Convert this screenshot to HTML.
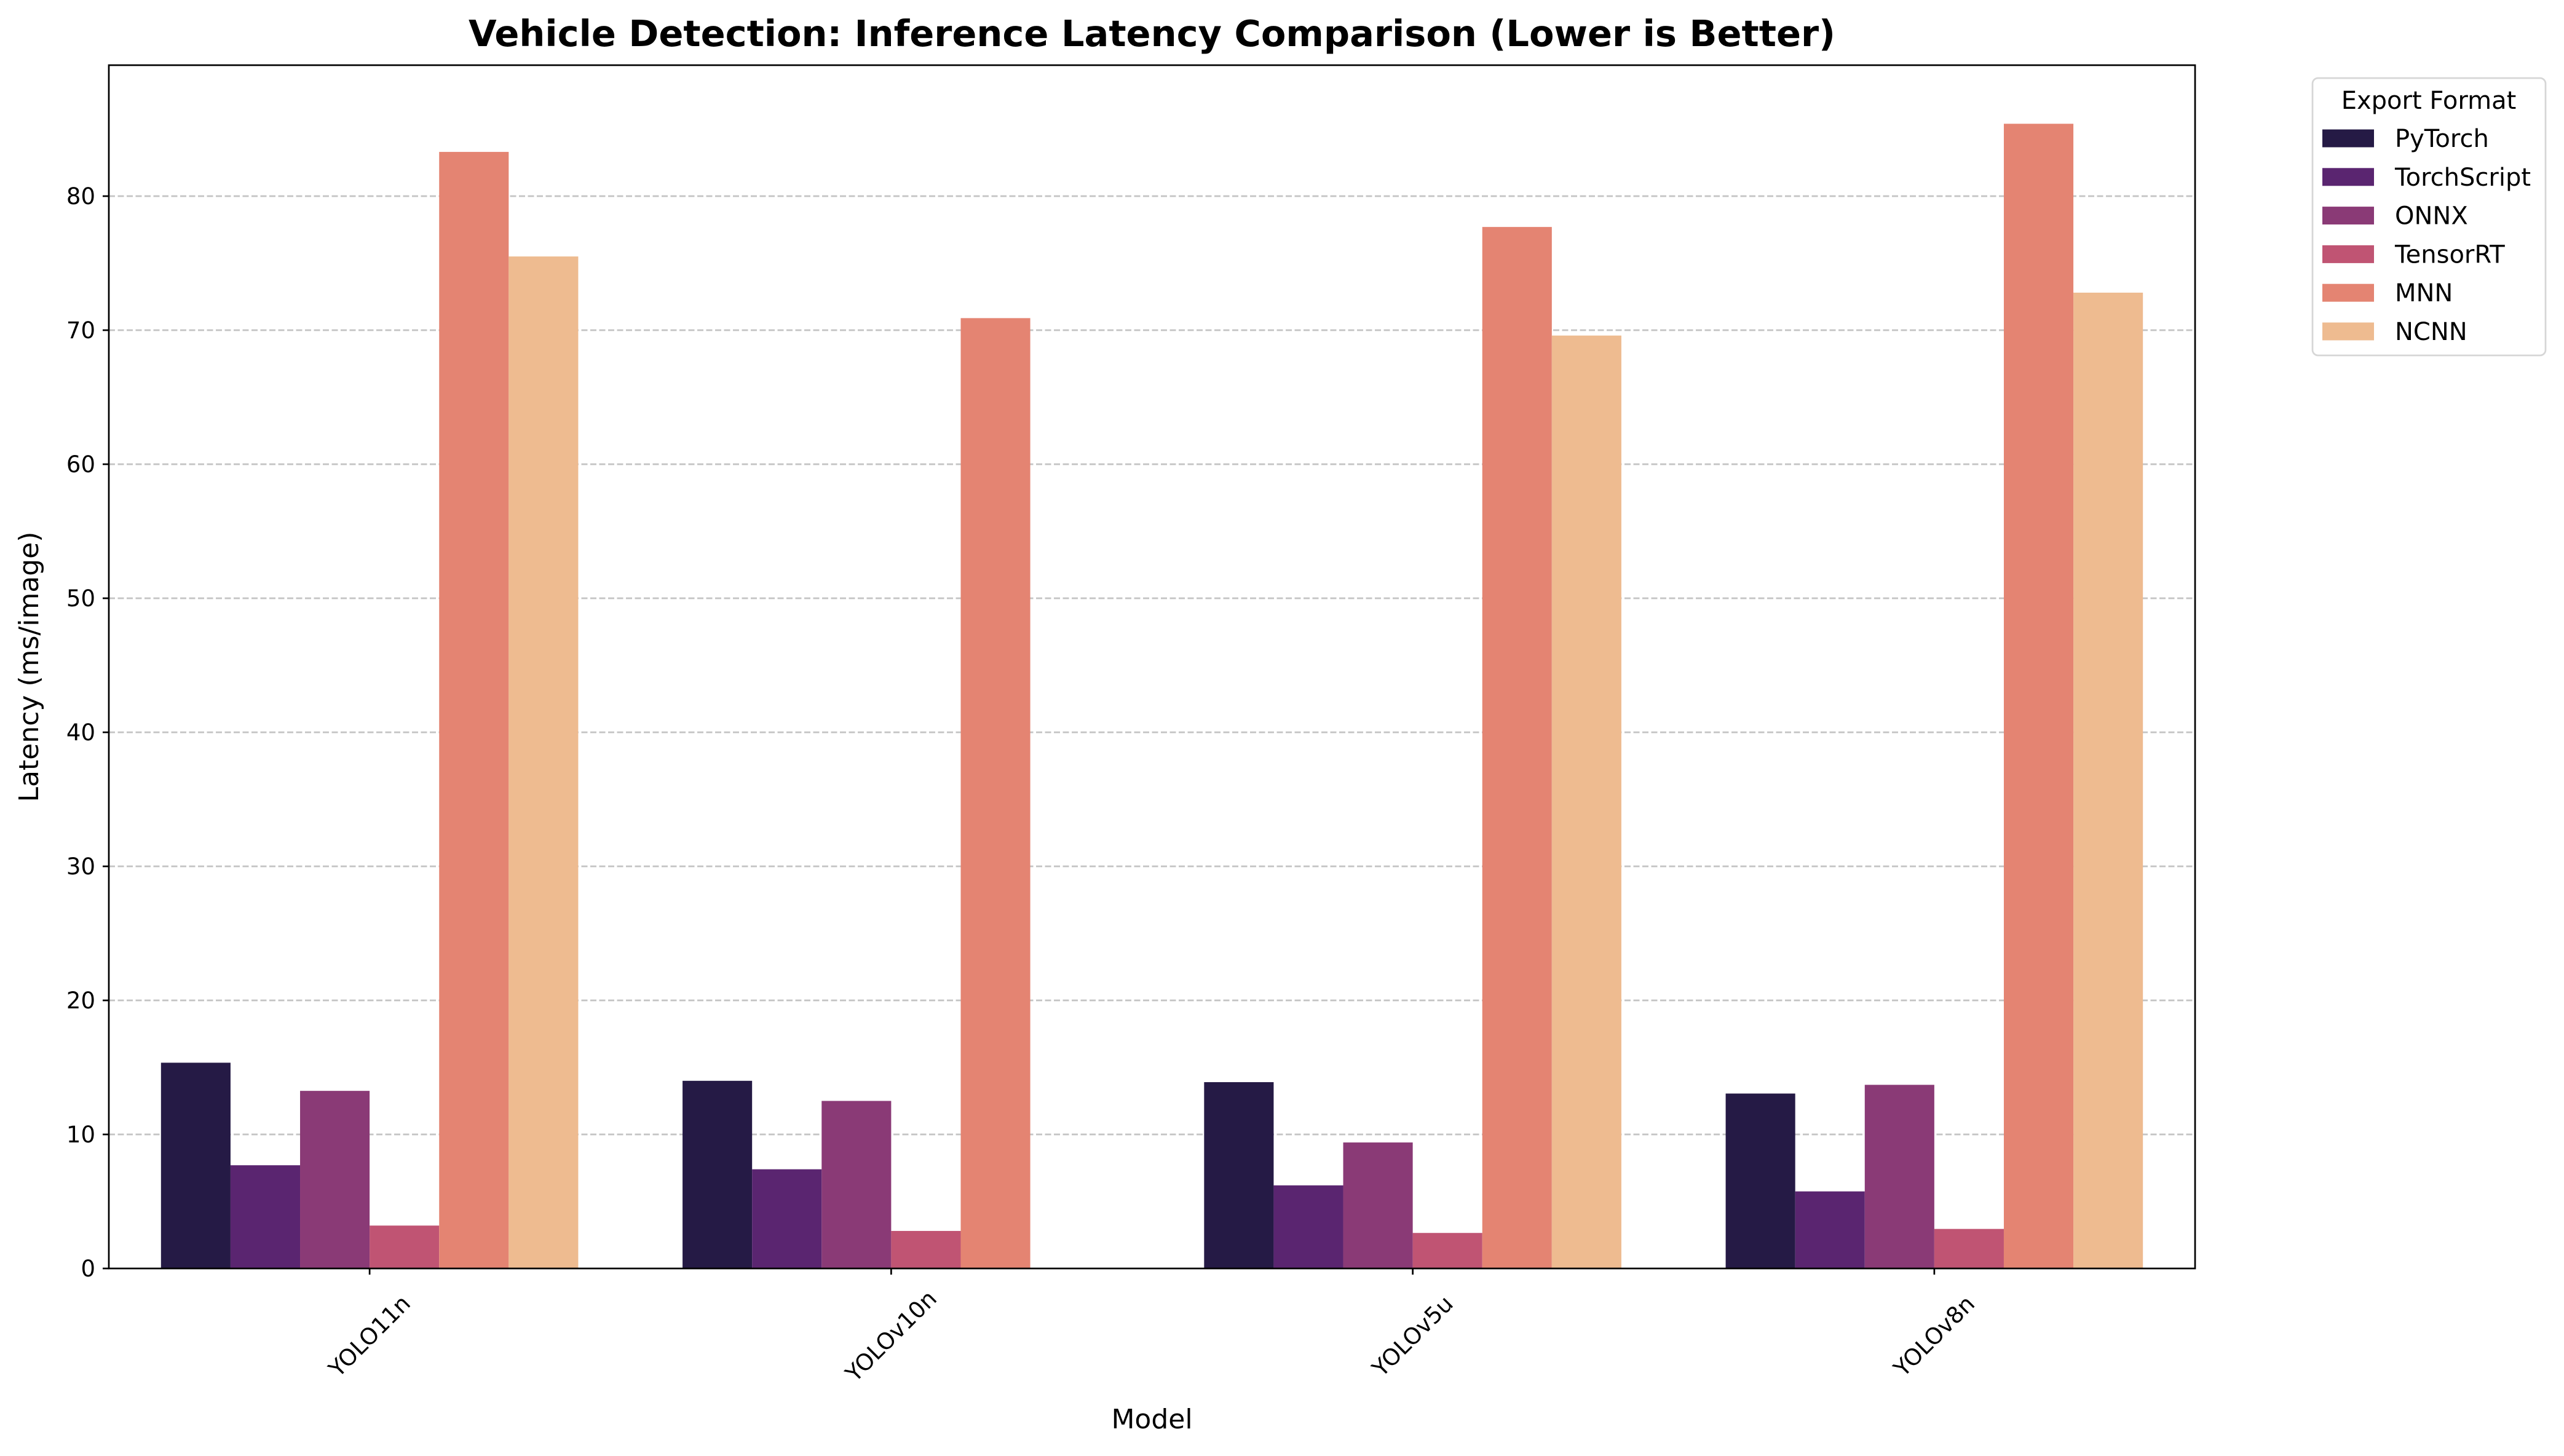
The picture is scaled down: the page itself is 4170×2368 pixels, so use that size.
<!DOCTYPE html>
<html><head><meta charset="utf-8"><style>
html,body{margin:0;padding:0;background:#fff;}
svg{display:block;font-family:"DejaVu Sans","Liberation Sans",sans-serif;}
</style></head><body>
<svg id="chart" width="4170" height="2368" viewBox="0 0 4170 2368" xmlns="http://www.w3.org/2000/svg">
<rect width="4170" height="2368" fill="#fff"/>
<g id="grid"></g>
<g id="bars"></g>
<g id="axes"></g>
<g id="legend"></g>
</svg>
<script>
const categories = ["YOLO11n","YOLOv10n","YOLOv5u","YOLOv8n"];
const seriesNames = ["PyTorch","TorchScript","ONNX","TensorRT","MNN","NCNN"];
const pytorch = [15.35, 14.0, 13.9, 13.05];
const torchscript = [7.7, 7.4, 6.2, 5.75];
const onnx = [13.25, 12.5, 9.4, 13.7];
const tensorrt = [3.2, 2.8, 2.65, 2.95];
const mnn = [83.3, 70.9, 77.7, 85.4];
const ncnn = [75.5, 0, 69.6, 72.8];
const yTicks = [0,10,20,30,40,50,60,70,80];
const colors = ["#251a45","#5a2570","#8a3a76","#c05473","#e48472","#eebb90"];
const values = [pytorch, torchscript, onnx, tensorrt, mnn, ncnn];

const NS="http://www.w3.org/2000/svg";
const L=177, R=3570, T=106, B=2063;
const perUnit=(B-L===0)?0:21.8;
function y(v){return B - v*perUnit;}
const catW=(R-L)/4;
function xc(i){return L + catW*(i+0.5);}
const barW=catW*0.8/6;
function mk(tag,attrs,parent){const e=document.createElementNS(NS,tag);for(const k in attrs)e.setAttribute(k,attrs[k]);parent.appendChild(e);return e;}

const grid=document.getElementById('grid');
yTicks.forEach(t=>{
  if(t===0) return;
  const l=mk('line',{x1:L,x2:R,y1:y(t),y2:y(t),stroke:'#c4c4c4','stroke-width':2.7,'stroke-dasharray':'10,4.5'},grid);
  
  
});

const bars=document.getElementById('bars');
values.forEach((arr,s)=>{
  arr.forEach((v,i)=>{
    const x0=xc(i)-catW*0.4+s*barW;
    const r=mk('rect',{x:x0,y:y(v),width:barW,height:B-y(v),fill:colors[s]},bars);
    
    
  });
});

const axes=document.getElementById('axes');
const frame=mk('rect',{x:L,y:T,width:R-L,height:B-T,fill:'none',stroke:'#000','stroke-width':2.7},axes);


yTicks.forEach(t=>{
  mk('line',{x1:L-10,x2:L,y1:y(t),y2:y(t),stroke:'#000','stroke-width':2.7},axes);
  const tx=mk('text',{x:L-22,y:y(t)+13,'text-anchor':'end','font-size':37,fill:'#000'},axes);
  tx.textContent=t;
  
  
});
categories.forEach((c,i)=>{
  mk('line',{x1:xc(i),x2:xc(i),y1:B,y2:B+10,stroke:'#000','stroke-width':2.7},axes);
  const tx=mk('text',{x:0,y:0,'text-anchor':'middle','dominant-baseline':'central','font-size':37,fill:'#000',transform:'translate('+xc(i)+',2173) rotate(-45)'},axes);
  tx.textContent=c;
  
  
});
const title=mk('text',{x:(L+R)/2,y:75,'text-anchor':'middle','font-size':59,'font-weight':'bold',fill:'#000'},axes);
title.textContent='Vehicle Detection: Inference Latency Comparison (Lower is Better)';


const xl=mk('text',{x:(L+R)/2,y:2323,'text-anchor':'middle','font-size':44,fill:'#000'},axes);
xl.textContent='Model';


const yl=mk('text',{x:0,y:0,'text-anchor':'middle','font-size':44,fill:'#000',transform:'translate(62,'+((T+B)/2)+') rotate(-90)'},axes);
yl.textContent='Latency (ms/image)';



const lg=document.getElementById('legend');
const box=mk('rect',{x:3761,y:127,width:379,height:451,rx:9,fill:'#fff',stroke:'#d6d6d6','stroke-width':2.7},lg);


const lt=mk('text',{x:3950,y:177,'text-anchor':'middle','font-size':40,fill:'#000'},lg);
lt.textContent='Export Format';


seriesNames.forEach((n,s)=>{
  const cy=225+s*62.8;
  const g=mk('g',{},lg);
  
  
  mk('rect',{x:3777,y:cy-14.5,width:84,height:29,fill:colors[s]},g);
  const t=mk('text',{x:3895,y:cy+14,'font-size':40,fill:'#000'},g);
  t.textContent=n;
});
</script>
</body></html>
